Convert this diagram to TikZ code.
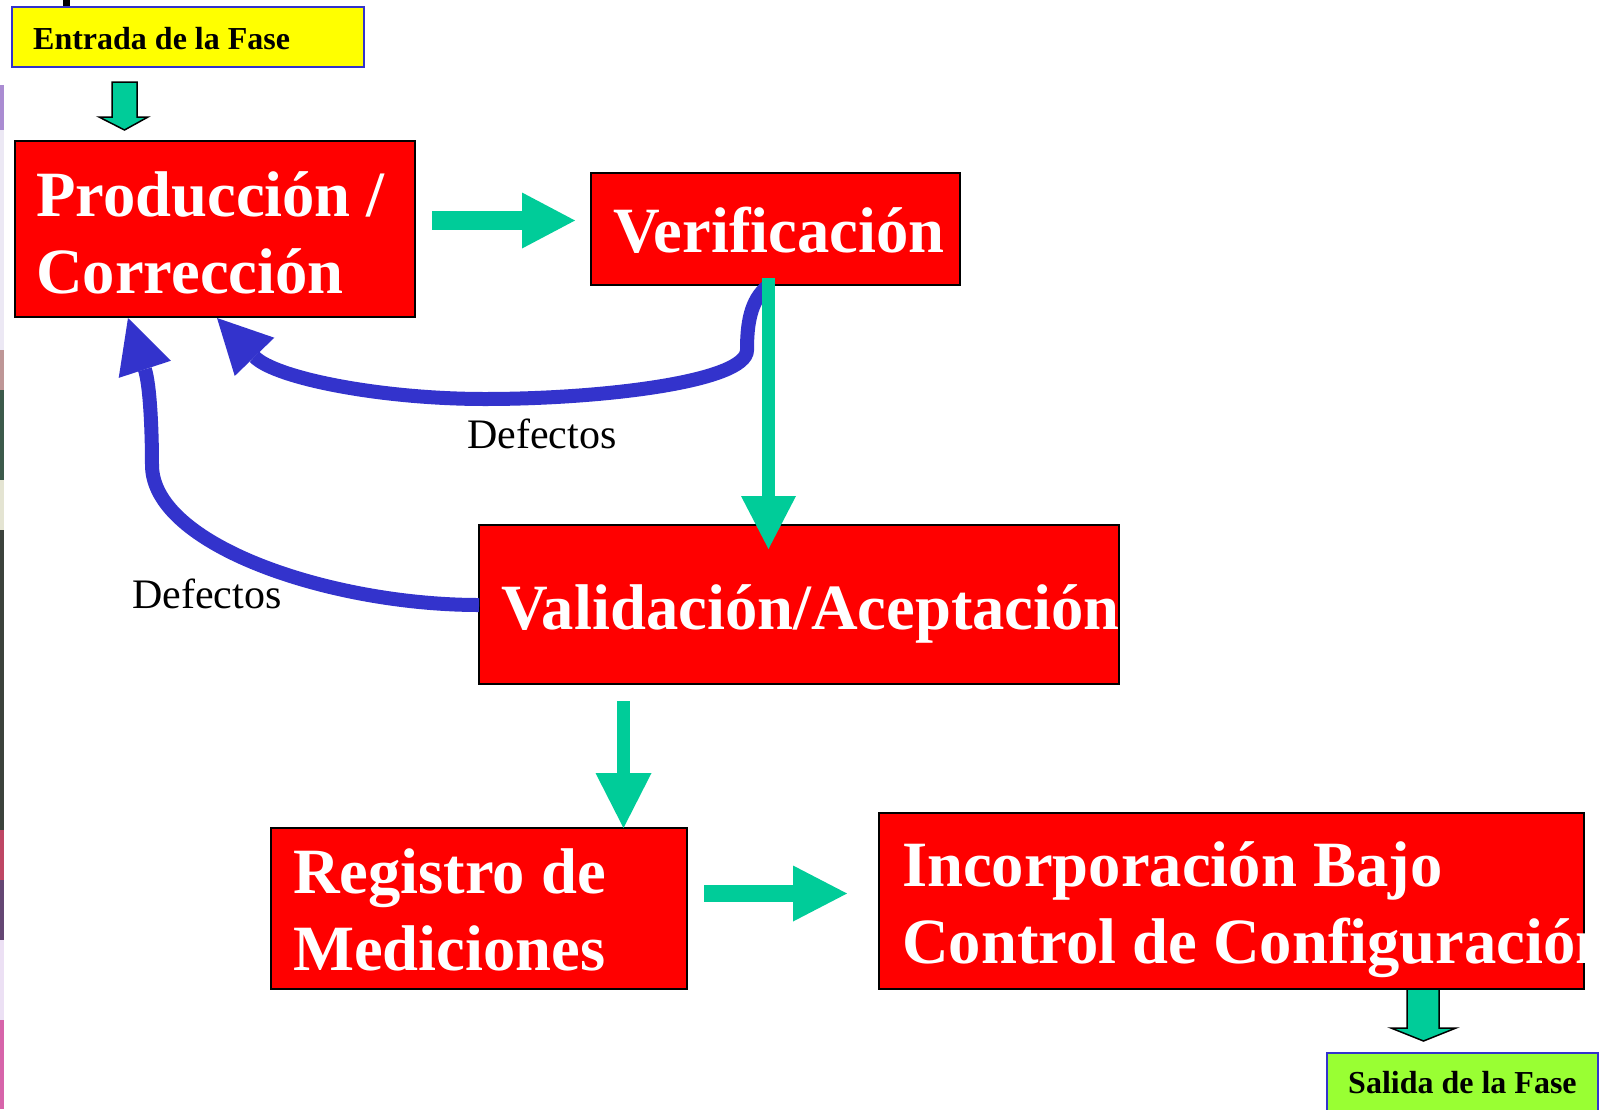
\documentclass[tikz,border=0pt]{standalone}
\usepackage{fontspec}
\setmainfont{Liberation Serif}
\usetikzlibrary{arrows.meta}
\definecolor{boxred}{HTML}{FF0000}
\definecolor{flowgreen}{HTML}{00CC99}
\definecolor{loopblue}{HTML}{3333CC}
\definecolor{inyellow}{HTML}{FFFF00}
\definecolor{outlime}{HTML}{99FF33}
\begin{document}
\begin{tikzpicture}[x=1pt,y=-1pt,
  redbox/.style={draw=black, line width=1.5pt, fill=boxred, anchor=north west, inner sep=0pt, outer sep=0pt},
  phasebox/.style={draw=loopblue, line width=2pt, anchor=north west, inner sep=0pt, outer sep=0pt},
  bigtext/.style={anchor=base west, inner sep=0pt, text=white, font=\fontsize{64.6}{77}\selectfont\bfseries},
  smalltext/.style={anchor=base west, inner sep=0pt, text=black, font=\fontsize{32}{38}\selectfont\bfseries},
  deftext/.style={anchor=base west, inner sep=0pt, text=black, font=\fontsize{42}{50}\selectfont},
  blockarrow/.style={draw=black, line width=1.5pt, fill=flowgreen, line join=miter},
  loop/.style={draw=loopblue, line width=14pt, -{Triangle[length=54pt,width=55pt,line width=0pt]}},
]
\useasboundingbox (0,0) rectangle (1604,1109);
\fill[white] (0,0) rectangle (1604,1109);

% left edge remnant stripe
\fill[fill={rgb,255:red,170;green,140;blue,210}] (0,85) rectangle (4,130);
\fill[fill={rgb,255:red,236;green,232;blue,244}] (0,130) rectangle (4,350);
\fill[fill={rgb,255:red,190;green,150;blue,150}] (0,350) rectangle (4,390);
\fill[fill={rgb,255:red,60;green,90;blue,75}] (0,390) rectangle (4,480);
\fill[fill={rgb,255:red,228;green,228;blue,210}] (0,480) rectangle (4,530);
\fill[fill={rgb,255:red,60;green,66;blue,60}] (0,530) rectangle (4,830);
\fill[fill={rgb,255:red,190;green,70;blue,100}] (0,830) rectangle (4,880);
\fill[fill={rgb,255:red,100;green,70;blue,115}] (0,880) rectangle (4,940);
\fill[fill={rgb,255:red,236;green,224;blue,244}] (0,940) rectangle (4,1020);
\fill[fill={rgb,255:red,215;green,100;blue,170}] (0,1020) rectangle (4,1109);
\fill[black] (63,0) rectangle (70,6);

% input / output phase boxes
\node[phasebox, fill=inyellow, minimum width=352pt, minimum height=60pt] (entrada) at (12,7) {};
\node[smalltext] (entradaT) at (33,49) {Entrada de la Fase};
\node[phasebox, fill=outlime, minimum width=271pt, minimum height=80pt] (salida) at (1327,1053) {};
\node[smalltext] (salidaT) at (1348,1093) {Salida de la Fase};

% block arrows in/out
\draw[blockarrow] (112,82) -- (137,82) -- (137,117) -- (148,117) -- (124.5,130) -- (99,117) -- (112,117) -- cycle;
\draw[blockarrow] (1407,985) -- (1439,985) -- (1439,1028) -- (1456,1028) -- (1423.5,1041) -- (1391,1028) -- (1407,1028) -- cycle;

% process boxes
\node[redbox, minimum width=400pt, minimum height=176pt] (prod) at (15,141) {};
\node[bigtext] (prodA) at (36,216) {Producción /};
\node[bigtext] (prodB) at (36,293) {Corrección};

\node[redbox, minimum width=369pt, minimum height=112pt] (verif) at (591,173) {};
\node[bigtext] (verifT) at (613,252) {Verificación};

\node[redbox, minimum width=640pt, minimum height=159pt] (valid) at (479,525) {};
\node[bigtext] (validT) at (501,629) {Validación/Aceptación};

\node[redbox, minimum width=416pt, minimum height=161pt] (reg) at (271,828) {};
\node[bigtext] (regA) at (293,893) {Registro de};
\node[bigtext] (regB) at (293,970) {Mediciones};

\node[redbox, minimum width=705pt, minimum height=176pt] (inc) at (879,813) {};
\begin{scope}
  \clip (879,813) rectangle (1584,989);
  \node[bigtext] (incA) at (902,886) {Incorporación Bajo};
  \node[bigtext] (incB) at (902,963) {Control de Configuración};
\end{scope}

% defect loops
\coordinate (b1s) at (768,286);
\coordinate (b1e) at (217,318);
\draw[loop] (b1s) .. controls (750,300) and (747,325) .. (747,350)
  .. controls (747,382) and (600,399) .. (485,399)
  .. controls (380,399) and (275,378) .. (b1e);
\node[deftext] (def1) at (467,448) {Defectos};

\coordinate (b2s) at (479,605);
\coordinate (b2e) at (128,318);
\draw[loop] (b2s) .. controls (330,605) and (152,545) .. (152,465)
  .. controls (152,430) and (150,385) .. (b2e);
\node[deftext] (def2) at (132,608) {Defectos};

% green flow arrows
\coordinate (g1s) at (432,220.5);
\coordinate (g1e) at (575,220.5);
\draw[flowgreen, line width=19pt, -{Triangle[length=53pt,width=56pt,line width=0pt]}] (g1s) -- (g1e);
\coordinate (g2s) at (768.5,278);
\coordinate (g2e) at (768.5,549);
\draw[flowgreen, line width=13.5pt, -{Triangle[length=53pt,width=55pt,line width=0pt]}] (g2s) -- (g2e);
\coordinate (g3s) at (623.5,701);
\coordinate (g3e) at (623.5,828);
\draw[flowgreen, line width=13pt, -{Triangle[length=55pt,width=56pt,line width=0pt]}] (g3s) -- (g3e);
\coordinate (g4s) at (704,893.5);
\coordinate (g4e) at (847,893.5);
\draw[flowgreen, line width=17pt, -{Triangle[length=54pt,width=56pt,line width=0pt]}] (g4s) -- (g4e);
\end{tikzpicture}
\end{document}
